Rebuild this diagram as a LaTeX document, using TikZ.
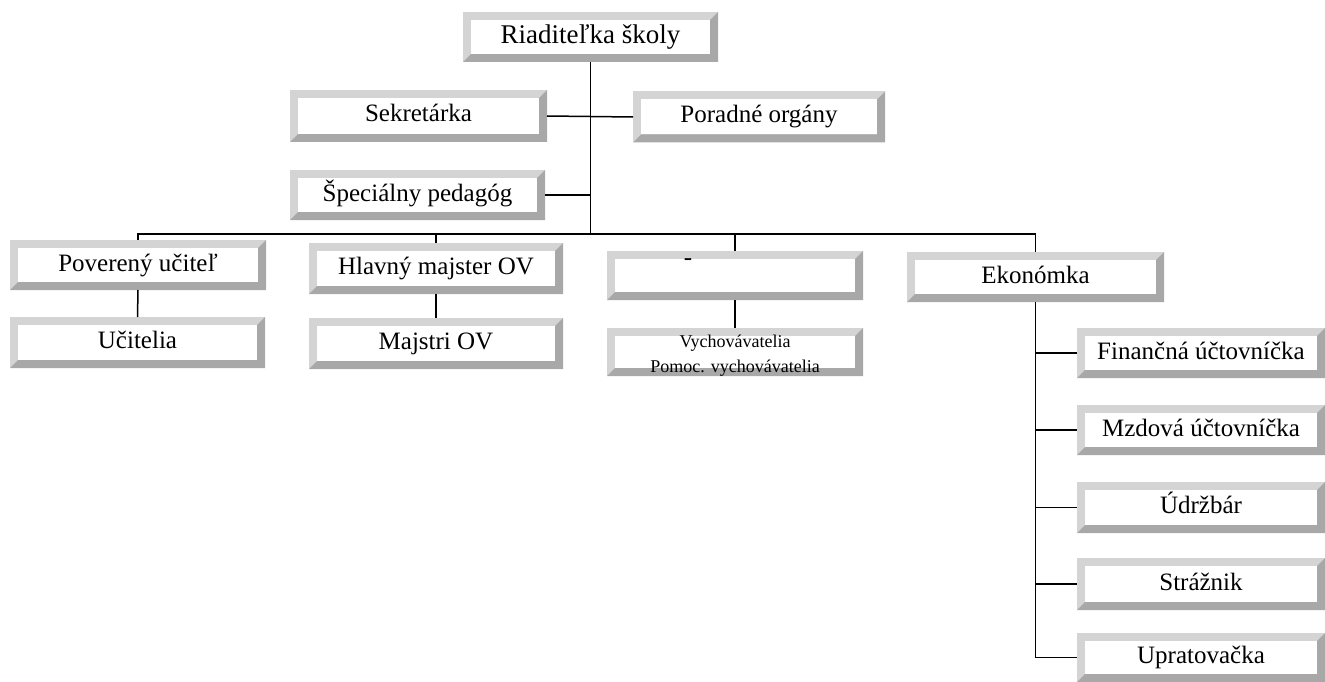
\documentclass[tikz,border=0pt]{standalone}
\usepackage{fontspec}
\setmainfont{Liberation Serif}
\newcommand{\fntbig}{\fontsize{27}{31}\selectfont}
\newcommand{\fntmid}{\fontsize{25}{29}\selectfont}
\newcommand{\fntsml}{\fontsize{18}{25}\selectfont}
\definecolor{bevlt}{RGB}{212,212,212}
\definecolor{bevdk}{RGB}{168,168,168}
\tikzset{
  bev/.style={rectangle, inner sep=0pt, outer sep=0pt, fill=white, font=\fntmid,
    text height=17pt, text depth=5pt,
    path picture={
      \fill[bevlt] (path picture bounding box.south west) rectangle (path picture bounding box.north east);
      \fill[bevdk] (path picture bounding box.north east) -- (path picture bounding box.south east)
        -- (path picture bounding box.south west) -- ([shift={(8pt,8pt)}]path picture bounding box.south west)
        -- ([shift={(-8pt,8pt)}]path picture bounding box.south east)
        -- ([shift={(-8pt,-8pt)}]path picture bounding box.north east) -- cycle;
      \fill[white] ([shift={(8pt,8pt)}]path picture bounding box.south west) rectangle ([shift={(-8pt,-8pt)}]path picture bounding box.north east);
    }},
  conn/.style={line width=1.5pt, black}
}
\begin{document}
\begin{tikzpicture}[x=1pt,y=-1pt]
\useasboundingbox (0,0) rectangle (1325,682);
% top
\node[bev, font=\fntbig, text height=18.5pt, text depth=5.5pt, minimum width=255pt, minimum height=50pt] (rt) at (590.5,37) {Riaditeľka školy};
\node[bev, minimum width=257pt, minimum height=52pt] (sek) at (418.5,116) {Sekretárka};
\node[bev, minimum width=252pt, minimum height=51pt] (por) at (759,117) {Poradné orgány};
\node[bev, minimum width=255pt, minimum height=50pt] (spe) at (417.5,195) {Špeciálny pedagóg};
% second level
\node[bev, minimum width=256pt, minimum height=50pt] (pov) at (138,265) {Poverený učiteľ};
\node[bev, minimum width=255pt, minimum height=51pt] (uci) at (137.5,342.5) {Učitelia};
\node[bev, minimum width=254pt, minimum height=51pt] (hla) at (436,268.5) {Hlavný majster OV};
\node[bev, minimum width=254pt, minimum height=51pt] (maj) at (436,343.5) {Majstri OV};
\node[bev, minimum width=256pt, minimum height=49pt] (dsh) at (735,275.5) {};
\node[font=\fntmid, inner sep=0pt] (dshlbl) at (688,262) {-};
\node[bev, minimum width=256pt, minimum height=48pt] (vyc) at (735,352) {};
\node[font=\fntsml, align=center, inner sep=0pt] (vyctxt) at (735,356) {Vychovávatelia\\Pomoc. vychovávatelia};
\node[bev, minimum width=257pt, minimum height=50pt] (eko) at (1035.5,277) {Ekonómka};
% right column
\node[bev, minimum width=248pt, minimum height=50pt] (fin) at (1201,353) {Finančná účtovníčka};
\node[bev, minimum width=248pt, minimum height=50pt] (mzd) at (1201,430) {Mzdová účtovníčka};
\node[bev, minimum width=248pt, minimum height=51pt] (udr) at (1201,507.5) {Údržbár};
\node[bev, minimum width=248pt, minimum height=52pt] (str) at (1201,584) {Strážnik};
\node[bev, minimum width=248pt, minimum height=49pt] (upr) at (1201,657.5) {Upratovačka};
% connectors
\coordinate (bus) at (589,234);
\draw[conn] (rt.south) -- (rt.south |- bus);
\draw[conn] (sek.east) -- (por.west);
\draw[conn] (spe.east) -- (spe.east -| rt.south);
\draw[conn] (pov.north) -- (pov.north |- bus) -- (eko.north |- bus) -- (eko.north);
\draw[conn] (hla.north) -- (hla.north |- bus);
\draw[conn] (dsh.north) -- (dsh.north |- bus);
\draw[conn] (pov.south) -- (uci.north);
\draw[conn] (hla.south) -- (maj.north);
\draw[conn] (dsh.south) -- (vyc.north);
\coordinate (ekoend) at (eko.south |- upr.west);
\draw[conn] (eko.south) -- (ekoend) -- (upr.west);
\draw[conn] (fin.west -| eko.south) -- (fin.west);
\draw[conn] (mzd.west -| eko.south) -- (mzd.west);
\draw[conn] (udr.west -| eko.south) -- (udr.west);
\draw[conn] (str.west -| eko.south) -- (str.west);
\end{tikzpicture}
\end{document}
